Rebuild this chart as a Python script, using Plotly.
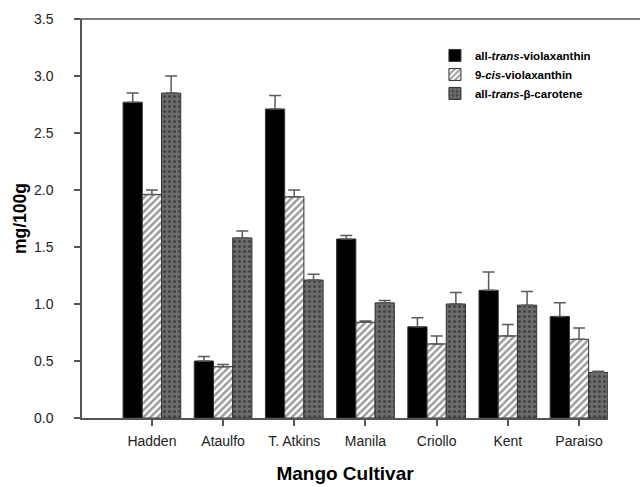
import plotly.graph_objects as go

cultivars = ["Hadden", "Ataulfo", "T. Atkins", "Manila", "Criollo", "Kent", "Paraiso"]

trans_viola = [2.77, 0.50, 2.71, 1.57, 0.80, 1.12, 0.89]
trans_viola_err = [0.08, 0.04, 0.12, 0.03, 0.08, 0.16, 0.12]

cis_viola = [1.96, 0.45, 1.94, 0.84, 0.65, 0.72, 0.69]
cis_viola_err = [0.04, 0.02, 0.06, 0.01, 0.07, 0.10, 0.10]

beta_carotene = [2.85, 1.58, 1.21, 1.01, 1.00, 0.99, 0.40]
beta_carotene_err = [0.15, 0.06, 0.05, 0.02, 0.10, 0.12, 0.01]

y_ticks = [0.0, 0.5, 1.0, 1.5, 2.0, 2.5, 3.0, 3.5]

xpos = list(range(len(cultivars)))
axis_grey = "#555555"


def err(vals):
    return dict(type="data", symmetric=False, array=vals, arrayminus=[0] * len(vals),
                color="#5a5a5a", thickness=1.5, width=6)


fig = go.Figure()
fig.add_trace(go.Bar(
    x=xpos, y=trans_viola, name="<b>all-<i>trans</i>-violaxanthin</b>",
    marker=dict(color="black", line=dict(color="#333333", width=1)),
    error_y=err(trans_viola_err),
))
fig.add_trace(go.Bar(
    x=xpos, y=cis_viola, name="<b>9-<i>cis</i>-violaxanthin</b>",
    marker=dict(color="white", line=dict(color="#333333", width=1),
                pattern=dict(shape="/", fgcolor="#3a3a3a", bgcolor="white",
                             size=5, solidity=0.5)),
    error_y=err(cis_viola_err),
))
fig.add_trace(go.Bar(
    x=xpos, y=beta_carotene, name="<b>all-<i>trans</i>-β-carotene</b>",
    marker=dict(color="#666666", line=dict(color="#333333", width=1),
                pattern=dict(shape=".", fgcolor="#1a1a1a", bgcolor="#6c6c6c",
                             size=5, solidity=0.3)),
    error_y=err(beta_carotene_err),
))

fig.update_layout(
    width=640, height=487,
    margin=dict(l=82, r=32, t=19, b=69),
    paper_bgcolor="white", plot_bgcolor="white",
    barmode="group", bargap=0.19, bargroupgap=0.0,
    font=dict(family="Liberation Sans, Arial, sans-serif", color="#222222", size=13),
    showlegend=True,
    legend=dict(x=0.671, y=0.945, xanchor="left", yanchor="top",
                font=dict(size=11.5, color="black"), tracegroupgap=0,
                bgcolor="rgba(0,0,0,0)", itemwidth=30),
    xaxis=dict(
        range=[-0.982, 6.407], tickmode="array", tickvals=xpos, ticktext=cultivars,
        showline=True, linecolor=axis_grey, linewidth=1.5, automargin=False,
        ticks="outside", ticklen=6, tickcolor=axis_grey, tickwidth=1.5,
        showgrid=False, zeroline=False, ticklabelstandoff=3,
        tickfont=dict(size=14, color="#222222"),
        title=dict(text="<b>Mango Cultivar</b>", font=dict(size=19, color="black"), standoff=19),
    ),
    yaxis=dict(
        range=[0, 3.5], tickmode="array", tickvals=y_ticks,
        ticktext=[f"{v:.1f}" for v in y_ticks],
        showline=True, linecolor=axis_grey, linewidth=1.5, automargin=False,
        ticks="outside", ticklen=6, tickcolor=axis_grey, tickwidth=1.5,
        showgrid=False, zeroline=False, ticklabelstandoff=18,
        tickfont=dict(size=14, color="#222222"),
        title=dict(text="<b>mg/100g</b>", font=dict(size=17.5, color="black"), standoff=3),
    ),
    shapes=[dict(type="line", xref="paper", yref="paper", x0=-0.013, x1=1.07, y0=1, y1=1,
                 line=dict(color=axis_grey, width=1.5))],
)

fig.write_html("out.html")
